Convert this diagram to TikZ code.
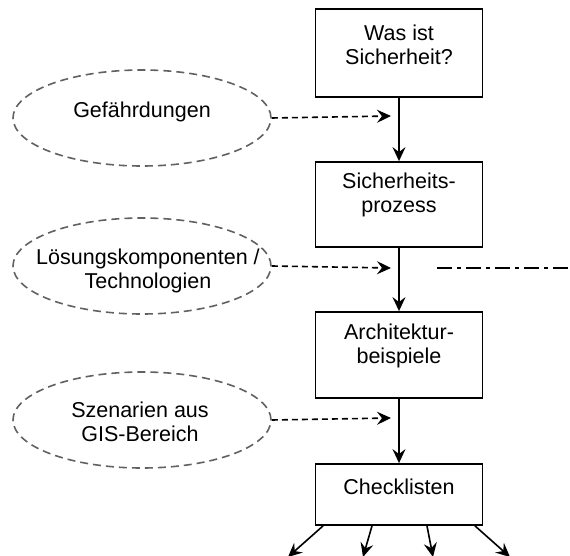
\documentclass[tikz,border=0pt]{standalone}
\usepackage{fontspec}
\setmainfont{Liberation Sans}
\usetikzlibrary{arrows.meta,shapes.geometric}

\begin{document}
\begin{tikzpicture}[x=1pt,y=-1pt,
  stepbox/.style={draw=black, line width=1.8pt, minimum width=167pt,
    minimum height=#1, inner sep=0pt},
  topic/.style={draw=black!62, line width=1.6pt, dash pattern=on 8pt off 5pt,
    ellipse, minimum width=258pt, minimum height=96pt, inner sep=0pt},
  txt/.style={align=center, inner sep=0pt, font=\fontsize{21.5}{24}\selectfont},
  flow/.style={line width=1.6pt, -{Stealth[length=14pt,width=13pt,inset=5pt]}},
  feed/.style={line width=1.6pt, dash pattern=on 6pt off 4pt,
    -{Stealth[length=14pt,width=13pt,inset=5pt]}},
  side/.style={line width=1.6pt, dash pattern=on 15pt off 5pt on 4pt off 5pt},
]
\useasboundingbox (0,0) rectangle (570,556);

% main chain of steps
\node[stepbox=88pt] (s1) at (399,53) {};
\node[stepbox=85pt] (s2) at (399,204.5) {};
\node[stepbox=86pt] (s3) at (399,355) {};
\node[stepbox=61pt] (s4) at (399,494.5) {};
\node[txt] (t1) at (399,44.5) {Was ist\\Sicherheit?};
\node[txt] (t2) at (399,195) {Sicherheits-\\prozess};
\node[txt] (t3) at (399,346) {Architektur-\\beispiele};
\node[txt] (t4) at (399,487) {Checklisten};

% inputs feeding the chain
\node[topic] (e1) at (142,118) {};
\node[topic] (e2) at (142,266) {};
\node[topic] (e3) at (142,420) {};
\node[txt] (u1) at (142,112) {Gefährdungen};
\node[txt] (u2) at (148,271) {Lösungskomponenten /\\Technologien};
\node[txt] (u3) at (140,422) {Szenarien aus\\GIS-Bereich};

\coordinate (f1) at (391,116);
\coordinate (f2) at (391,268);
\coordinate (f3) at (391,418);

\draw[flow] (s1) -- (s2);
\draw[flow] (s2) -- (s3);
\draw[flow] (s3) -- (s4);

\draw[feed] (e1.east) -- (f1);
\draw[feed] (e2.east) -- (f2);
\draw[feed] (e3.east) -- (f3);

% branch marker to the right
\coordinate (d1) at (437,268);
\coordinate (d2) at (570,268);
\draw[side] (d1) -- (d2);

% outputs of the checklists
\coordinate (o1) at (288,557);
\coordinate (o2) at (363,557);
\coordinate (o3) at (433,557);
\coordinate (o4) at (510,557);
\draw[flow] (s4.south -| 323,0) -- (o1);
\draw[flow] (s4.south -| 372,0) -- (o2);
\draw[flow] (s4.south -| 427,0) -- (o3);
\draw[flow] (s4.south -| 475,0) -- (o4);
\end{tikzpicture}
\end{document}
